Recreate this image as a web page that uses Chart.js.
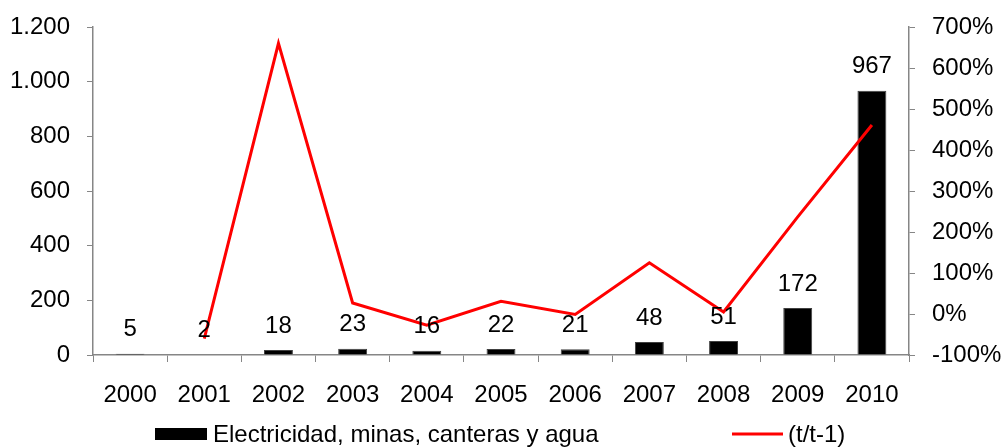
<!DOCTYPE html>
<html>
<head>
<meta charset="utf-8">
<script src="https://cdn.jsdelivr.net/npm/chart.js@4.4.1/dist/chart.umd.min.js"></script>
<style>
    body { margin: 0; background: #ffffff; }
    .chart-container { position: relative; width: 1003px; height: 448px; }
    canvas { display: block; }
</style>
</head>
<body>
<div class="chart-container"><canvas id="chart"></canvas></div>
<script>
const years = ['2000', '2001', '2002', '2003', '2004', '2005', '2006', '2007', '2008', '2009', '2010'];
const valores = [5, 2, 18, 23, 16, 22, 21, 48, 51, 172, 967];
const variacion = [null, -60, 660, 27, -27, 31, -1, 125, 5, 237, 461]; // % (t/t-1)
const barLabel = 'Electricidad, minas, canteras y agua';
const lineLabel = '(t/t-1)';

const FONT = '"Liberation Sans", Arial, sans-serif';
const FONT_SIZE = 24;
const AXIS_GRAY = '#868686';

// etiquetas encima de las barras
const barValues = {
    id: 'barValues',
    afterDatasetsDraw(chart) {
        const ctx = chart.ctx;
        const meta = chart.getDatasetMeta(1);
        ctx.save();
        ctx.font = FONT_SIZE + 'px ' + FONT;
        ctx.fillStyle = '#000';
        ctx.textAlign = 'center';
        ctx.textBaseline = 'middle';
        meta.data.forEach((bar, i) => {
            ctx.fillText(String(valores[i]), bar.x, bar.y - 24);
        });
        ctx.restore();
    }
};

// leyenda abajo, como en el original
const bottomLegend = {
    id: 'bottomLegend',
    afterDraw(chart) {
        const ctx = chart.ctx;
        const y = 434;
        ctx.save();
        ctx.font = FONT_SIZE + 'px ' + FONT;
        ctx.textBaseline = 'middle';
        ctx.textAlign = 'left';
        ctx.fillStyle = '#000';
        ctx.fillRect(155, y - 6, 52, 12);
        ctx.fillText(barLabel, 213, y + 1);
        ctx.strokeStyle = '#ff0000';
        ctx.lineWidth = 3;
        ctx.beginPath();
        ctx.moveTo(732, y);
        ctx.lineTo(783, y);
        ctx.stroke();
        ctx.fillText(lineLabel, 788, y + 1);
        ctx.restore();
    }
};

new Chart(document.getElementById('chart').getContext('2d'), {
    type: 'bar',
    data: {
        labels: years,
        datasets: [{
            type: 'line',
            label: lineLabel,
            data: variacion,
            yAxisID: 'y1',
            borderColor: '#ff0000',
            borderWidth: 3,
            pointRadius: 0,
            tension: 0,
            spanGaps: false,
            order: 0
        }, {
            type: 'bar',
            label: barLabel,
            data: valores,
            yAxisID: 'y',
            backgroundColor: '#000000',
            borderColor: '#404040',
            borderWidth: 1,
            categoryPercentage: 1,
            barPercentage: 0.39,
            order: 1
        }]
    },
    options: {
        responsive: true,
        maintainAspectRatio: false,
        animation: false,
        layout: { padding: { top: 27, right: 0, bottom: 0, left: 0 } },
        plugins: {
            legend: { display: false },
            tooltip: { enabled: false }
        },
        scales: {
            x: {
                grid: { display: true, drawOnChartArea: false, drawTicks: true, tickLength: 7, color: AXIS_GRAY, offset: true },
                border: { color: AXIS_GRAY, width: 1.5 },
                ticks: { color: '#000', font: { family: FONT, size: FONT_SIZE }, padding: 19, maxRotation: 0 },
                afterFit(scale) { scale.height = 93; }
            },
            y: {
                position: 'left',
                min: 0,
                max: 1200,
                grid: { drawOnChartArea: false, drawTicks: true, tickLength: 6, color: AXIS_GRAY },
                border: { color: AXIS_GRAY, width: 1.5 },
                ticks: {
                    stepSize: 200,
                    color: '#000',
                    padding: 17,
                    font: { family: FONT, size: FONT_SIZE, lineHeight: 0.8 },
                    callback: v => String(v).replace(/\B(?=(\d{3})+(?!\d))/g, '.')
                },
                afterFit(scale) { scale.width = 93; }
            },
            y1: {
                position: 'right',
                min: -100,
                max: 700,
                grid: { drawOnChartArea: false, drawTicks: true, tickLength: 6, color: AXIS_GRAY },
                border: { color: AXIS_GRAY, width: 1.5 },
                ticks: {
                    stepSize: 100,
                    color: '#000',
                    padding: 17,
                    font: { family: FONT, size: FONT_SIZE, lineHeight: 0.8 },
                    callback: v => v + '%'
                },
                afterFit(scale) { scale.width = 94; }
            }
        }
    },
    plugins: [barValues, bottomLegend]
});
</script>
</body>
</html>
